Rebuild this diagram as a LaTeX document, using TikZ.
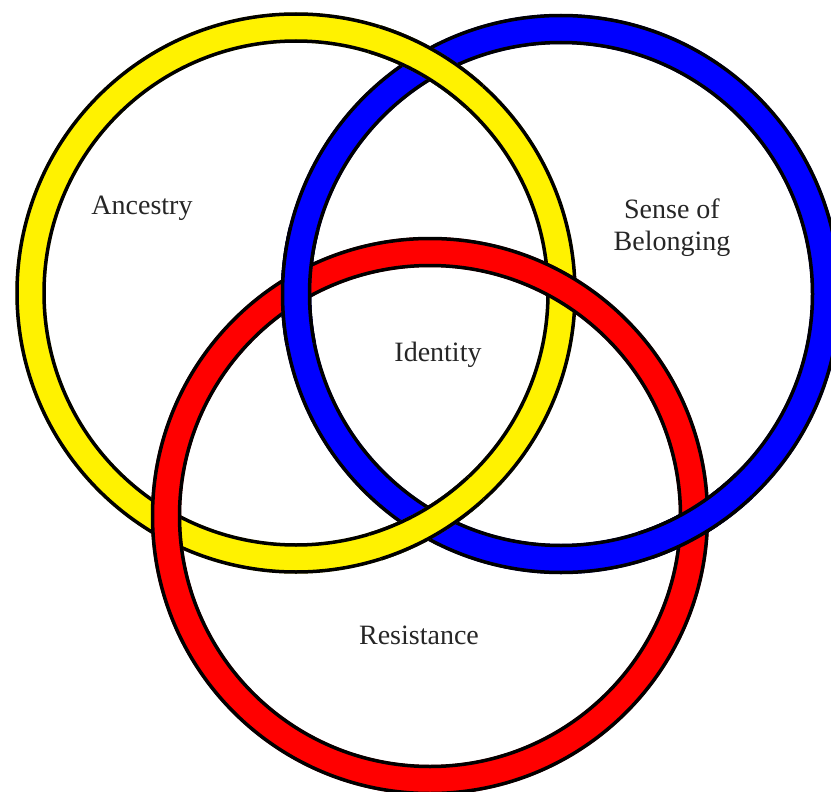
\documentclass[tikz,border=0pt]{standalone}
\usepackage{fontspec}
\setmainfont{Liberation Serif}
\begin{document}
\begin{tikzpicture}[x=1pt,y=-1pt,
  band/.style={line width=30pt},
  edge/.style={draw=black,line width=3.5pt},
  lbl/.style={font=\fontsize{28}{32}\selectfont,align=center,text=black!85}]
\useasboundingbox (0,0) rectangle (831,792);
\clip (0,0) rectangle (831,792);
\fill[white] (0,0) rectangle (831,792);
% centres
\coordinate (Y) at (296,293);
\coordinate (B) at (561,294);
\coordinate (R) at (430,516);
\newcommand{\myring}[3]{%
  \draw[band,draw=#3] (#1) circle (#2);
  \draw[edge] (#1) circle ({#2-13.5}) (#1) circle ({#2+13.5});}
\myring{Y}{265.5}{yellow}
\myring{B}{265}{blue}
\myring{R}{264}{red}
% yellow over blue
\begin{scope}
  \clip (428,62) circle (60) (428,522) circle (60);
  \myring{Y}{265.5}{yellow}
\end{scope}
% blue over red
\begin{scope}
  \clip (296,286) circle (60) (697,520) circle (60);
  \myring{B}{265}{blue}
\end{scope}
\node[lbl] (anc) at (142,208) {Ancestry};
\node[lbl] (sob) at (672,228) {Sense of\\Belonging};
\node[lbl] (idt) at (438,355) {Identity};
\node[lbl] (res) at (419,635) {Resistance};
\end{tikzpicture}
\end{document}
